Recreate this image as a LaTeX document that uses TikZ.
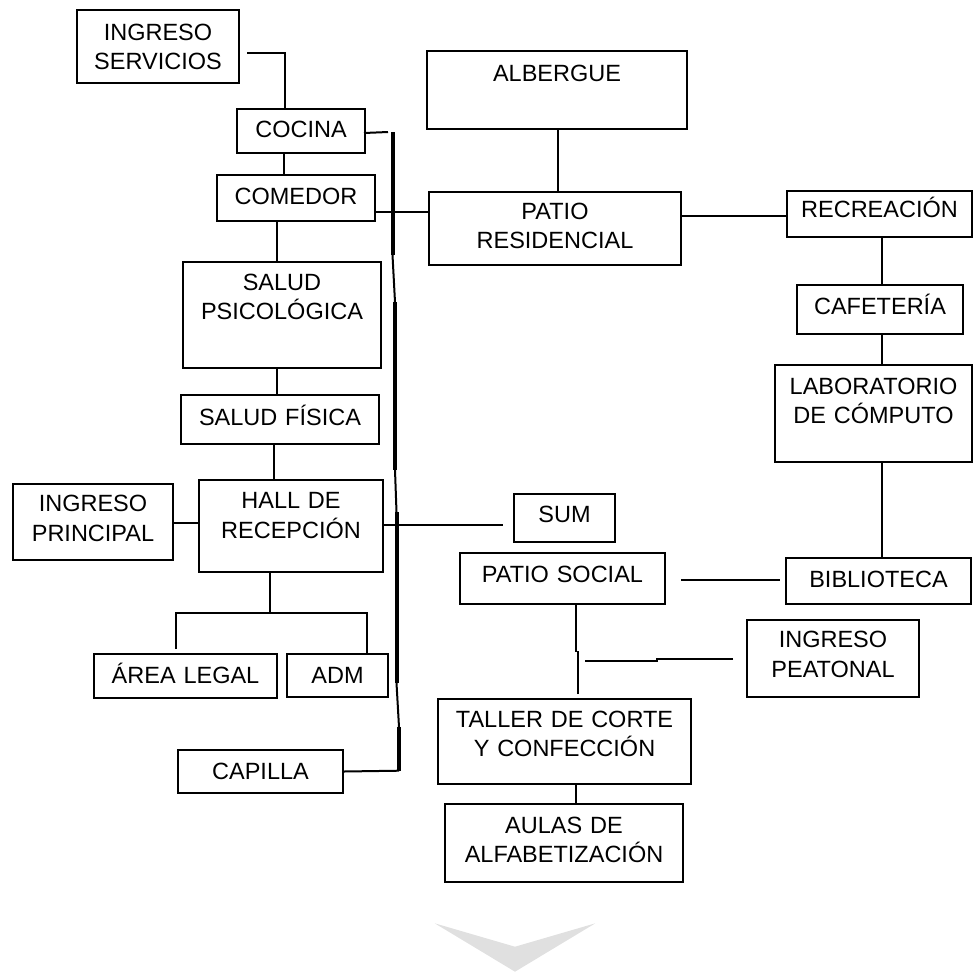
\documentclass[tikz,border=0pt]{standalone}
\usepackage{fontspec}
\setmainfont{Liberation Sans}
\usepackage{tikz}
\tikzset{
every picture/.style={line width=2pt, x=1pt, y=-1pt},
%%%%%%%%%%  Node styles
caja/.style={draw, inner sep=0pt, anchor=north west, align=center,
             font=\fontsize{23.5}{29.5}\selectfont},
tam/.style n args={3}{text width=#1pt, text height=#2pt, text depth=#3pt},
%%%% line styles
bus/.style={line width=2pt},
busgrueso/.style={line width=4pt},
chevron/.style={fill=black!12}
}

\begin{document}
\begin{tikzpicture}
\useasboundingbox (0,0) rectangle (973,975);
%% left column
\node[caja, tam={162}{30.3}{42.7}] (ingserv) at (76,9) {INGRESO\\SERVICIOS};
\node[caja, tam={128}{28.7}{15.3}] (cocina) at (236,108) {COCINA};
\node[caja, tam={158}{29.3}{16.7}] (comedor) at (216,174) {COMEDOR};
\node[caja, tam={198}{28.3}{77.7}] (saludpsi) at (182,261) {SALUD\\PSICOLÓGICA};
\node[caja, tam={198}{30}{19}] (saludfis) at (180,394) {SALUD FÍSICA};
\node[caja, tam={184}{28.7}{63.3}] (hall) at (198,479) {HALL DE\\RECEPCIÓN};
\node[caja, tam={160}{27.7}{48.3}] (ingprin) at (12,483) {INGRESO\\PRINCIPAL};
\node[caja, tam={183}{29.3}{14.7}] (legal) at (93,653) {ÁREA LEGAL};
\node[caja, tam={101}{29.3}{13.7}] (adm) at (286,653) {ADM};
\node[caja, tam={165}{29.3}{13.7}] (capilla) at (177,749) {CAPILLA};
%% right part
\node[caja, tam={260}{30.7}{47.3}] (albergue) at (426,50) {ALBERGUE};
\node[caja, tam={252}{27.3}{45.7}] (patiores) at (428,191) {PATIO\\RESIDENCIAL};
\node[caja, tam={185}{26.7}{19.3}] (recrea) at (786,190) {RECREACIÓN};
\node[caja, tam={166}{29.3}{19.7}] (cafe) at (796,284) {CAFETERÍA};
\node[caja, tam={197}{29.3}{67.7}] (lab) at (774,364) {LABORATORIO\\DE CÓMPUTO};
\node[caja, tam={101}{28.7}{19.3}] (sum) at (513,493) {SUM};
\node[caja, tam={205}{29}{22}] (patiosoc) at (459,552) {PATIO SOCIAL};
\node[caja, tam={185}{29}{17}] (biblio) at (785,557) {BIBLIOTECA};
\node[caja, tam={172}{27.7}{49.3}] (ingpeat) at (746,619) {INGRESO\\PEATONAL};
\node[caja, tam={253}{28}{57}] (taller) at (437,698) {TALLER DE CORTE\\Y CONFECCIÓN};
\node[caja, tam={238}{29.3}{48.7}] (aulas) at (444,803) {AULAS DE\\ALFABETIZACIÓN};

%% vertical bus
\coordinate (t1) at (392.5,132);
\coordinate (t2) at (392.5,255);
\coordinate (t3) at (395,302);
\coordinate (t4) at (395,470);
\coordinate (t5) at (396.5,512);
\coordinate (t6) at (396.5,683);
\coordinate (t7) at (399,727);
\coordinate (t8) at (399,770.7);
\draw[bus] (t1) -- (t2) -- (t3) -- (t4) -- (t5) -- (t6) -- (t7) -- (t8);
\draw[busgrueso] (t1) -- (t2) (t3) -- (t4) (t5) -- (t6) (t7) -- (t8);

%% connectors
\draw ([shift={(7,6.5)}]ingserv.east) -| (cocina.north -| 285,0);
\draw ([shift={(-2,2)}]cocina.east) -- (t1 -| 388,0);
\draw (cocina.south -| 284,0) -- (comedor.north -| 284,0);
\draw (comedor.east |- 0,212) -- (patiores.west |- 0,212);
\draw (comedor.south -| 277,0) -- (saludpsi.north -| 277,0);
\draw (saludpsi.south -| 277,0) -- (saludfis.north -| 277,0);
\draw (saludfis.south -| 274,0) -- (hall.north -| 274,0);
\draw (ingprin.east |- 0,523) -- (hall.west |- 0,523);
\draw[shorten >=10pt] (hall.east |- 0,525) -- (sum.west |- 0,525);
\draw (hall.south -| 270,0) -- ++(0,40) coordinate (bif);
\draw[shorten <=4pt] (legal.north -| 175.5,0) |- (bif -| 367,0) -- (adm.north -| 367,0);
\draw (capilla.east) -- (t8);
\draw (albergue.south -| 557.7,0) -- (patiores.north -| 557.7,0);
\draw (patiores.east |- 0,216) -- (recrea.west |- 0,216);
\draw (recrea.south -| 881.7,0) -- (cafe.north -| 881.7,0);
\draw (cafe.south -| 881.7,0) -- (lab.north -| 881.7,0);
\draw (lab.south -| 882.3,0) -- (biblio.north -| 882.3,0);
\draw[shorten <=15pt, shorten >=5pt] (patiosoc.east |- 0,580) -- (biblio.west |- 0,580);
\draw (patiosoc.south -| 575.7,0) -- ++(0,47);
\draw (taller.north -| 577.7,0) ++(0,-4) -- ++(0,-43);
\draw[shorten <=13pt] (ingpeat.west) -- ++(-89,0) -- ++(0,2) -- ++(-72,0);
\draw (taller.south -| 576,0) -- (aulas.north -| 576,0);

%% chevron
\fill[chevron] (434.7,923.3) -- (515,946.7) -- (595.3,923.3) -- (515,971.7) -- cycle;
\end{tikzpicture}
\end{document}
